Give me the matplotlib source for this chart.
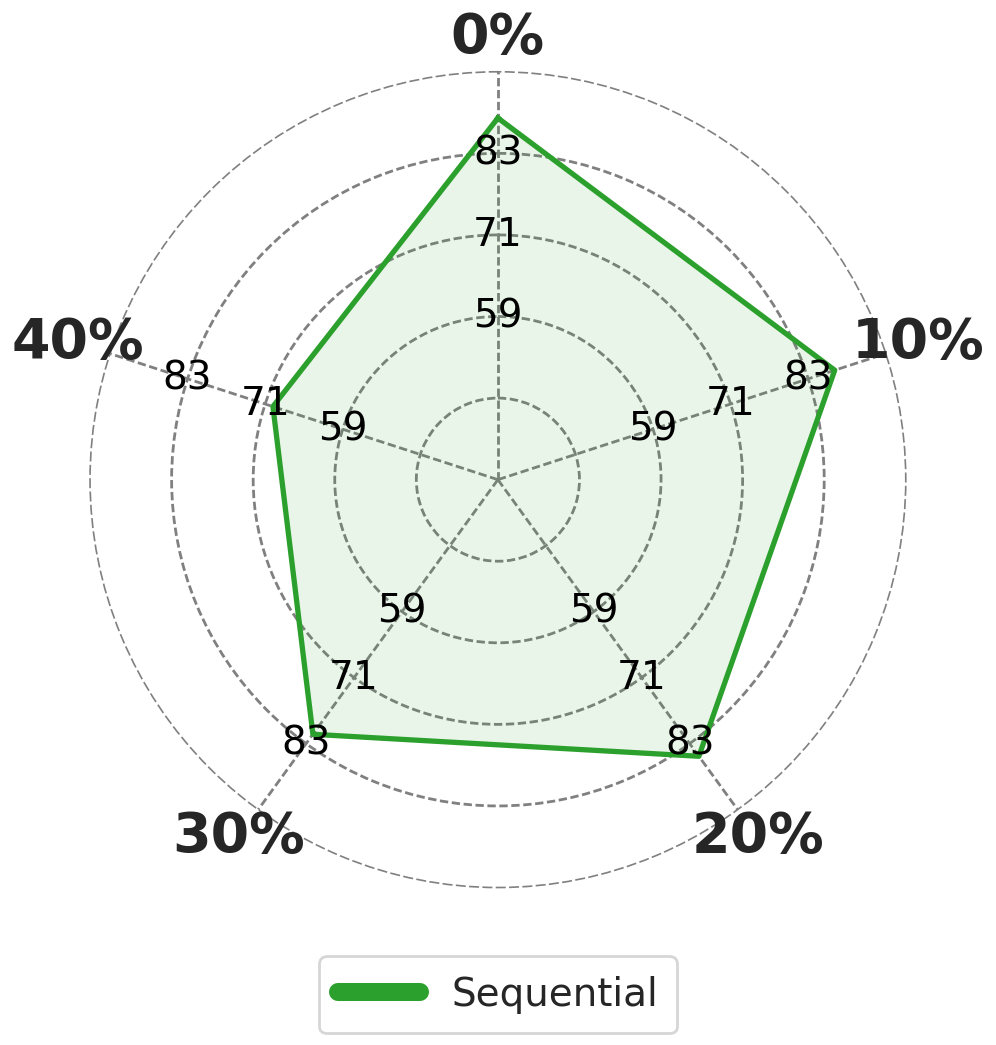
import numpy as np
import matplotlib
matplotlib.use("Agg")
import matplotlib.pyplot as plt

# radar of one series over the five levels
categories = ["0%", "10%", "20%", "30%", "40%"]
values = [88.2, 87.1, 85.3, 81.3, 69.8]
series_name = "Sequential"
tick_vals = [59, 71, 83]
ring_vals = [47, 59, 71, 83]
r_min, r_max = 35, 95

green = "#2ca02c"
txt = "#262626"

n = len(categories)
angles = np.linspace(0, 2 * np.pi, n, endpoint=False)

fig = plt.figure(figsize=(4.98, 5.225), dpi=200)
ax = fig.add_axes([0.0904, 0.1505, 0.819, 0.781], polar=True)
ax.set_theta_offset(np.pi / 2)
ax.set_theta_direction(-1)
ax.set_ylim(r_min, r_max)

ax.set_xticks(angles)
ax.set_xticklabels([])
ax.set_yticks(ring_vals)
ax.set_yticklabels([])
ax.grid(color="grey", linestyle="--", linewidth=1.0, dashes=(3, 1.3))
ax.spines["polar"].set_color("grey")
ax.spines["polar"].set_linewidth(0.6)
ax.spines["polar"].set_linestyle((0, (5, 3)))

a_closed = np.append(angles, angles[0])
v_closed = values + values[:1]
ax.plot(a_closed, v_closed, color=green, linewidth=1.9, label=series_name, zorder=3)
ax.fill(a_closed, v_closed, color=green, alpha=0.1, zorder=2)

# value labels on every spoke
for a in angles:
    for t in tick_vals:
        ax.text(a, t, str(t), fontsize=14, ha="center", va="center", color="black", zorder=5)

# category labels outside the circle
for a, c in zip(angles, categories):
    ax.text(a, 100, c, fontsize=20, fontweight="bold", ha="center", va="center",
            color=txt, clip_on=False)

leg = fig.legend(loc="center", bbox_to_anchor=(0.5, 0.048), fontsize=14,
                 frameon=True, handlelength=2.1, borderpad=0.5)
for line in leg.get_lines():
    line.set_linewidth(6.5)
    line.set_solid_capstyle("round")
for t in leg.get_texts():
    t.set_color(txt)
leg.get_frame().set_edgecolor("#cccccc")

fig.savefig("out.png", dpi=200)
